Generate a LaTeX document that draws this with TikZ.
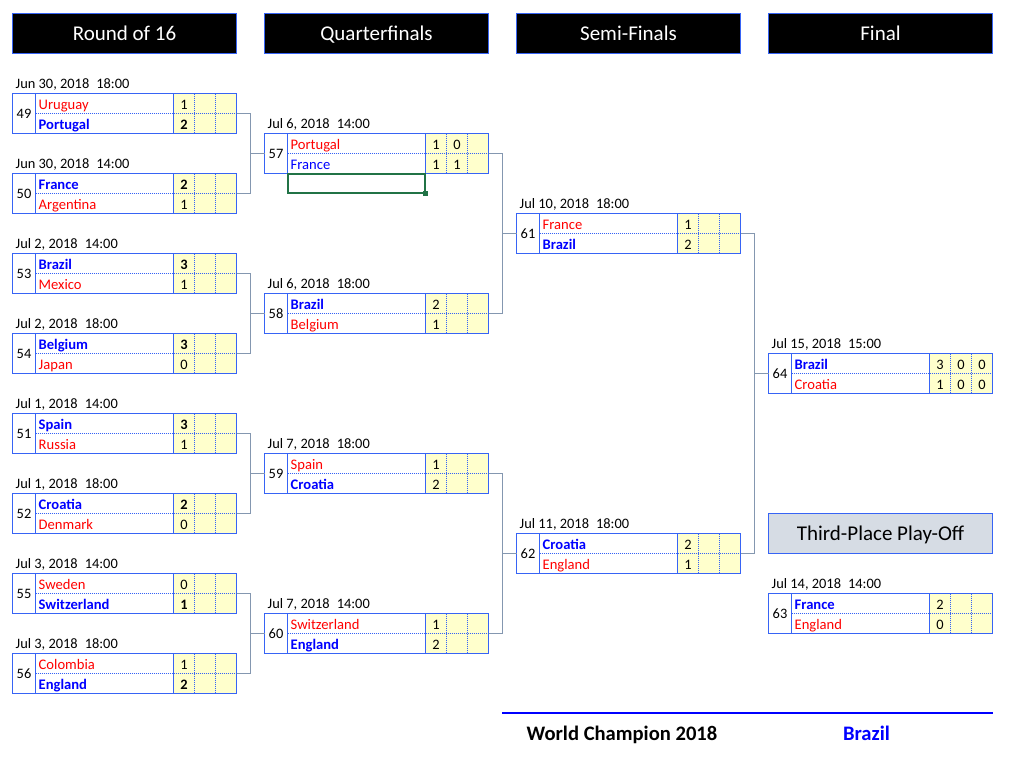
\documentclass[tikz,border=0pt]{standalone}
\usepackage{fontspec}
\setmainfont{Carlito}
\usepackage{tikz}
\usetikzlibrary{calc}
\usetikzlibrary{positioning}

\definecolor{cellblue}{RGB}{55,100,245}
\definecolor{linkgray}{RGB}{132,151,176}
\definecolor{scoreyellow}{RGB}{255,255,204}
\definecolor{winblue}{RGB}{0,0,255}
\definecolor{losered}{RGB}{255,0,0}
\definecolor{thirdgray}{RGB}{214,220,228}
\definecolor{selgreen}{RGB}{33,115,70}

\tikzstyle{header} = [rectangle, draw=cellblue, line width=1pt, fill=black, text=white, minimum width=224pt, minimum height=40pt, outer sep=0pt, font=\fontsize{21}{24}\selectfont, text height=13.5pt, text depth=0pt]
\tikzstyle{thirdhead} = [header, fill=thirdgray, text=black]
\tikzstyle{matchframe} = [rectangle, draw=cellblue, line width=1.2pt, minimum width=224pt, minimum height=40pt, outer sep=0pt, inner sep=0pt]
\tikzstyle{cellline} = [draw=cellblue, line width=1.2pt]
\tikzstyle{dotline} = [draw=cellblue, line width=1pt, dash pattern=on 1pt off 1pt]
\tikzstyle{datetext} = [inner sep=0pt, font=\fontsize{14.4}{16}\selectfont]
\tikzstyle{scorewin} = [inner sep=0pt, font=\fontsize{14.4}{16}\selectfont\bfseries]
\tikzstyle{win} = [inner sep=0pt, text=winblue, font=\fontsize{14.6}{16}\selectfont\bfseries]
\tikzstyle{winplain} = [inner sep=0pt, text=winblue, font=\fontsize{14.6}{16}\selectfont]
\tikzstyle{lose} = [inner sep=0pt, text=losered, font=\fontsize{14.6}{16}\selectfont]
\tikzstyle{link} = [draw=linkgray, line width=1.4pt]

% name, x, y, number, day, time
\newcommand{\match}[6]{%
  \begin{scope}[shift={(#2,#3)}]
    \fill[scoreyellow] (161,0) rectangle (224,40);
    \draw[dotline] (23,20) -- (224,20);
    \draw[dotline] (182,0) -- (182,40) (203,0) -- (203,40);
    \draw[cellline] (23,0) -- (23,40) (161,0) -- (161,40);
    \node[matchframe, anchor=north west] (#1) at (0,0) {};
    \node[datetext, anchor=base] (#1-no) at (11.5,25) {#4};
    \node[datetext, anchor=base west] (#1-date) at (3,-5) {#5\hspace{7pt}#6};
  \end{scope}}

% match, row, style, team, score style, scores
\newcommand{\team}[8]{%
  \node[#3, anchor=base west] (#1-team#2) at ($(#1.north west)+(26,#2*20+16)$) {#4};
  \node[#5, anchor=base] (#1-s#2a) at ($(#1.north west)+(171.5,#2*20+16)$) {#6};
  \node[#5, anchor=base] (#1-s#2b) at ($(#1.north west)+(192.5,#2*20+16)$) {#7};
  \node[#5, anchor=base] (#1-s#2c) at ($(#1.north west)+(213.5,#2*20+16)$) {#8};}

\begin{document}
\begin{tikzpicture}[x=1pt, y=-1pt]

    \useasboundingbox (0,0) rectangle (1015,772);

    \node[header] (hr16) at (124.5,33.5) {Round of 16};
    \node[header] (hqf) at (376.5,33.5) {Quarterfinals};
    \node[header] (hsf) at (628.5,33.5) {Semi-Finals};
    \node[header] (hfin) at (880.5,33.5) {Final};
    \node[thirdhead] (hthird) at (880.5,533.5) {Third-Place Play-Off};

    % round of 16
    \match{m49}{12.5}{93.5}{49}{Jun 30, 2018}{18:00}
    \team{m49}{0}{lose}{Uruguay}{datetext}{1}{}{}
    \team{m49}{1}{win}{Portugal}{scorewin}{2}{}{}

    \match{m50}{12.5}{173.5}{50}{Jun 30, 2018}{14:00}
    \team{m50}{0}{win}{France}{scorewin}{2}{}{}
    \team{m50}{1}{lose}{Argentina}{datetext}{1}{}{}

    \match{m53}{12.5}{253.5}{53}{Jul 2, 2018}{14:00}
    \team{m53}{0}{win}{Brazil}{scorewin}{3}{}{}
    \team{m53}{1}{lose}{Mexico}{datetext}{1}{}{}

    \match{m54}{12.5}{333.5}{54}{Jul 2, 2018}{18:00}
    \team{m54}{0}{win}{Belgium}{scorewin}{3}{}{}
    \team{m54}{1}{lose}{Japan}{datetext}{0}{}{}

    \match{m51}{12.5}{413.5}{51}{Jul 1, 2018}{14:00}
    \team{m51}{0}{win}{Spain}{scorewin}{3}{}{}
    \team{m51}{1}{lose}{Russia}{datetext}{1}{}{}

    \match{m52}{12.5}{493.5}{52}{Jul 1, 2018}{18:00}
    \team{m52}{0}{win}{Croatia}{scorewin}{2}{}{}
    \team{m52}{1}{lose}{Denmark}{datetext}{0}{}{}

    \match{m55}{12.5}{573.5}{55}{Jul 3, 2018}{14:00}
    \team{m55}{0}{lose}{Sweden}{datetext}{0}{}{}
    \team{m55}{1}{win}{Switzerland}{scorewin}{1}{}{}

    \match{m56}{12.5}{653.5}{56}{Jul 3, 2018}{18:00}
    \team{m56}{0}{lose}{Colombia}{datetext}{1}{}{}
    \team{m56}{1}{win}{England}{scorewin}{2}{}{}

    % quarterfinals
    \match{q57}{264.5}{133.5}{57}{Jul 6, 2018}{14:00}
    \team{q57}{0}{lose}{Portugal}{datetext}{1}{0}{}
    \team{q57}{1}{winplain}{France}{datetext}{1}{1}{}

    \match{q58}{264.5}{293.5}{58}{Jul 6, 2018}{18:00}
    \team{q58}{0}{win}{Brazil}{datetext}{2}{}{}
    \team{q58}{1}{lose}{Belgium}{datetext}{1}{}{}

    \match{q59}{264.5}{453.5}{59}{Jul 7, 2018}{18:00}
    \team{q59}{0}{lose}{Spain}{datetext}{1}{}{}
    \team{q59}{1}{win}{Croatia}{datetext}{2}{}{}

    \match{q60}{264.5}{613.5}{60}{Jul 7, 2018}{14:00}
    \team{q60}{0}{lose}{Switzerland}{datetext}{1}{}{}
    \team{q60}{1}{win}{England}{datetext}{2}{}{}

    % semi-finals
    \match{s61}{516.5}{213.5}{61}{Jul 10, 2018}{18:00}
    \team{s61}{0}{lose}{France}{datetext}{1}{}{}
    \team{s61}{1}{win}{Brazil}{datetext}{2}{}{}

    \match{s62}{516.5}{533.5}{62}{Jul 11, 2018}{18:00}
    \team{s62}{0}{win}{Croatia}{datetext}{2}{}{}
    \team{s62}{1}{lose}{England}{datetext}{1}{}{}

    % final and third place
    \match{f64}{768.5}{353.5}{64}{Jul 15, 2018}{15:00}
    \team{f64}{0}{win}{Brazil}{datetext}{3}{0}{0}
    \team{f64}{1}{lose}{Croatia}{datetext}{1}{0}{0}

    \match{t63}{768.5}{593.5}{63}{Jul 14, 2018}{14:00}
    \team{t63}{0}{win}{France}{datetext}{2}{}{}
    \team{t63}{1}{lose}{England}{datetext}{0}{}{}

    % cell selection
    \node[draw=selgreen, line width=2pt, minimum width=137.5pt, minimum height=19.5pt, inner sep=0pt, outer sep=0pt, anchor=north west] (sel) at (287.5,173.5) {};
    \node[fill=selgreen, minimum size=5pt, inner sep=0pt] (selhandle) at (sel.south east) {};

    % bracket lines
    \draw[link] (m49.east) -| ([xshift=-14pt]q57.west) |- (m50.east);
    \draw[link] ([xshift=-14pt]q57.west) -- (q57.west);
    \draw[link] (m53.east) -| ([xshift=-14pt]q58.west) |- (m54.east);
    \draw[link] ([xshift=-14pt]q58.west) -- (q58.west);
    \draw[link] (m51.east) -| ([xshift=-14pt]q59.west) |- (m52.east);
    \draw[link] ([xshift=-14pt]q59.west) -- (q59.west);
    \draw[link] (m55.east) -| ([xshift=-14pt]q60.west) |- (m56.east);
    \draw[link] ([xshift=-14pt]q60.west) -- (q60.west);
    \draw[link] (q57.east) -| ([xshift=-14pt]s61.west) |- (q58.east);
    \draw[link] ([xshift=-14pt]s61.west) -- (s61.west);
    \draw[link] (q59.east) -| ([xshift=-14pt]s62.west) |- (q60.east);
    \draw[link] ([xshift=-14pt]s62.west) -- (s62.west);
    \draw[link] (s61.east) -| ([xshift=-14pt]f64.west) |- (s62.east);
    \draw[link] ([xshift=-14pt]f64.west) -- (f64.west);

    % champion
    \draw[draw=winblue, line width=2pt] (502,712.5) -- (993,712.5);
    \node[inner sep=0pt, anchor=base, font=\fontsize{20.6}{24}\selectfont\bfseries] (champ) at (622,740) {World Champion 2018};
    \node[inner sep=0pt, anchor=base, text=winblue, font=\fontsize{20.6}{24}\selectfont\bfseries] (champteam) at (866.5,740) {Brazil};

\end{tikzpicture}
\end{document}
